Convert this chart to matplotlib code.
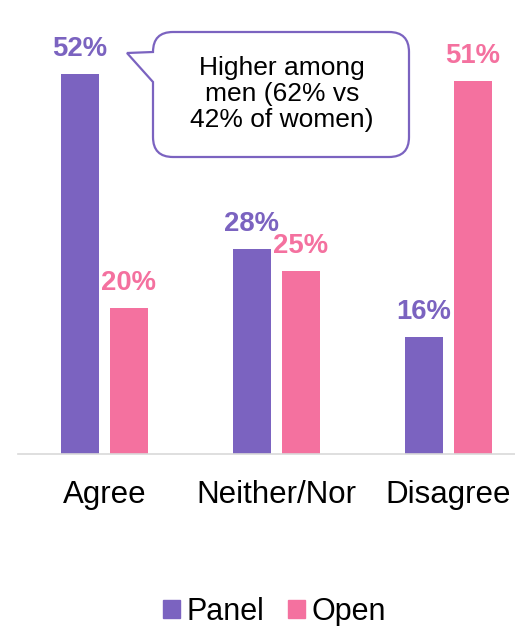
import numpy as np
import matplotlib
matplotlib.use('Agg')
import matplotlib.pyplot as plt
from matplotlib.path import Path
from matplotlib.patches import PathPatch, Patch

plt.rcParams['font.family'] = ['Liberation Sans', 'DejaVu Sans']

categories = ['Agree', 'Neither/Nor', 'Disagree']
panel = [52, 28, 16]
open_ = [20, 25, 51]
series_names = ['Panel', 'Open']
callout_text = 'Higher among\nmen (62% vs\n42% of women)'

purple = '#7B63C0'
pink = '#F4719F'

W, H = 515, 626
fig = plt.figure(figsize=(W / 100, H / 100), dpi=100)

# main axes, placed in pixel terms
ax = fig.add_axes([18 / W, 1 - 454 / H, (W - 18) / W, (454 - 20) / H])
x = np.arange(len(categories))
bw = 0.221
off = 0.1424
b1 = ax.bar(x - off, panel, bw, color=purple, label=series_names[0])
b2 = ax.bar(x + off, open_, bw, color=pink, label=series_names[1])

for bars, vals, col in [(b1, panel, purple), (b2, open_, pink)]:
    for r, v in zip(bars, vals):
        ax.annotate(f'{v}%', (r.get_x() + r.get_width() / 2, r.get_height()),
                    xytext=(0, 13), textcoords='offset points',
                    ha='center', va='baseline', fontsize=19.8,
                    fontweight='bold', color=col)

ax.set_xlim(-0.503, 2.387)
ax.set_ylim(0, 59.4)
ax.set_xticks(x)
ax.set_xticklabels(categories, fontsize=22.5)
ax.tick_params(axis='x', length=0, pad=19)
ax.set_yticks([])
for s in ['top', 'right', 'left']:
    ax.spines[s].set_visible(False)
ax.spines['bottom'].set_color('#D9D9D9')
ax.spines['bottom'].set_linewidth(1.2)

# callout bubble drawn on an overlay in pixel coordinates
ov = fig.add_axes([0, 0, 1, 1], zorder=5)
ov.set_xlim(0, W)
ov.set_ylim(H, 0)
ov.axis('off')
x0, x1, y0, y1, r = 153, 409, 32, 157, 20
verts = [(x0 + r, y0), (x1 - r, y0), (x1, y0), (x1, y0 + r),
         (x1, y1 - r), (x1, y1), (x1 - r, y1),
         (x0 + r, y1), (x0, y1), (x0, y1 - r),
         (x0, 82), (127, 53), (x0, y0 + r),
         (x0, y0), (x0 + r, y0), (x0 + r, y0)]
codes = [Path.MOVETO, Path.LINETO, Path.CURVE3, Path.CURVE3,
         Path.LINETO, Path.CURVE3, Path.CURVE3,
         Path.LINETO, Path.CURVE3, Path.CURVE3,
         Path.LINETO, Path.LINETO, Path.LINETO,
         Path.CURVE3, Path.CURVE3, Path.CLOSEPOLY]
ov.add_patch(PathPatch(Path(verts, codes), facecolor='white',
                       edgecolor=purple, linewidth=1.6))
ov.text(282, 94, callout_text, ha='center', va='center', fontsize=19,
        linespacing=1.13, color='black')

handles = [Patch(color=purple, label=series_names[0]),
           Patch(color=pink, label=series_names[1])]
fig.legend(handles=handles, loc='center', bbox_to_anchor=(274.5 / W, 1 - 612 / H),
           ncol=2, frameon=False, fontsize=22, handlelength=0.55,
           handleheight=0.55, handletextpad=0.2, columnspacing=0.8,
           borderpad=0, borderaxespad=0)

fig.savefig('out.png', dpi=100)
